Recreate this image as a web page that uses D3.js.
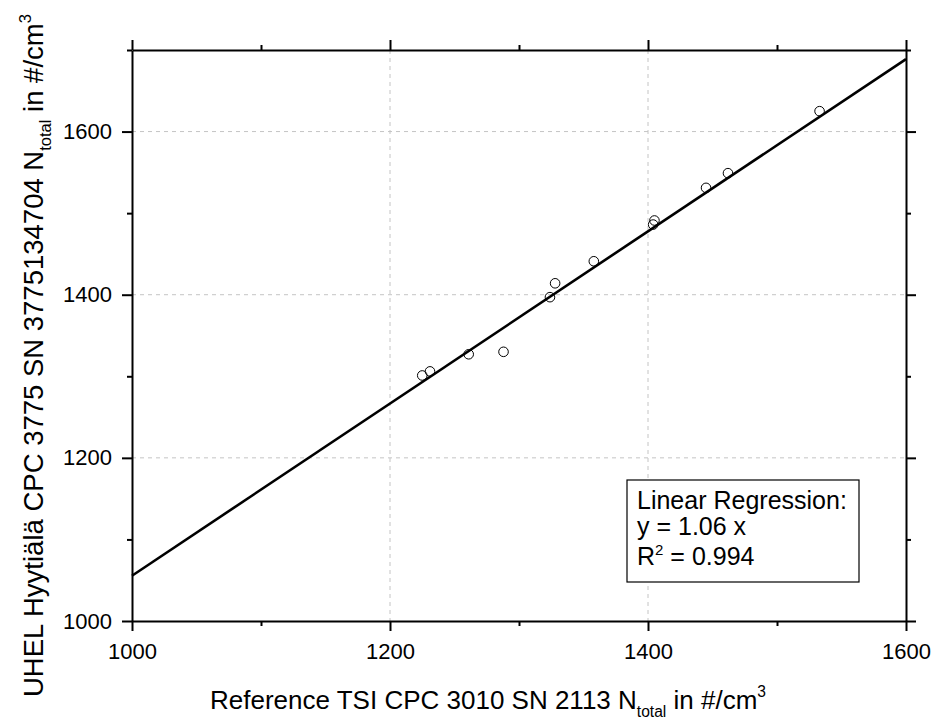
<!DOCTYPE html>
<html lang="en">
<head>
    <meta charset="UTF-8">
    <title>CPC comparison</title>
    <script src="https://d3js.org/d3.v7.min.js"></script>
    <style>
        body { margin: 0; background: #fff; }
        svg text { font-family: "Liberation Sans", Arial, sans-serif; fill: #000; }
    </style>
</head>
<body>
    <svg width="935" height="724"></svg>
    <script>
        // reference CPC (x) vs UHEL CPC (y), #/cm3
        var refValues  = [1225, 1231, 1261, 1288, 1324, 1328, 1358, 1404, 1405, 1445, 1462, 1533];
        var uhelValues = [1301, 1306, 1327, 1330, 1397, 1414, 1441, 1486, 1491, 1531, 1549, 1625];
        var fitSlope = 1.0555;
        var xTickValues = [1000, 1100, 1200, 1300, 1400, 1500, 1600];
        var yTickValues = [1000, 1100, 1200, 1300, 1400, 1500, 1600, 1700];
        var legendLines = ["Linear Regression:", "y = 1.06 x", "R2 = 0.994"];

        var svg = d3.select("svg");
        var margin = {left: 132, top: 50, right: 29, bottom: 103};
        var width = 935 - margin.left - margin.right;
        var height = 724 - margin.top - margin.bottom;

        var x = d3.scaleLinear().domain([1000, 1600]).range([0, width]);
        var y = d3.scaleLinear().domain([1000, 1700]).range([height, 0]);

        var plot = svg.append("g")
            .attr("transform", "translate(" + margin.left + "," + margin.top + ")");

        var isMajor = d => d % 200 === 0;

        // dashed grid at labelled values
        plot.selectAll(".gx")
            .data(xTickValues.filter(d => isMajor(d) && d > 1000 && d < 1600))
            .enter().append("line")
            .attr("x1", d => x(d)).attr("x2", d => x(d))
            .attr("y1", 0).attr("y2", height)
            .attr("stroke", "#c4c4c4").attr("stroke-dasharray", "4,4");
        plot.selectAll(".gy")
            .data(yTickValues.filter(d => isMajor(d) && d > 1000))
            .enter().append("line")
            .attr("x1", 0).attr("x2", width)
            .attr("y1", d => y(d)).attr("y2", d => y(d))
            .attr("stroke", "#c4c4c4").attr("stroke-dasharray", "4,4");

        function styleAxis(g, labels) {
            g.select(".domain").attr("stroke-width", 2);
            g.selectAll(".tick line").attr("stroke-width", 2);
            g.selectAll(".tick text").style("font-size", "22px");
            if (!labels) g.selectAll(".tick text").remove();
        }

        var fmt = d => isMajor(d) ? d : "";

        var axB = plot.append("g").attr("transform", "translate(0," + height + ")")
            .call(d3.axisBottom(x).tickValues(xTickValues).tickSize(10).tickSizeOuter(0).tickPadding(12).tickFormat(fmt));
        axB.selectAll(".tick line").attr("y2", d => isMajor(d) ? 10 : 5);
        styleAxis(axB, true);

        var axT = plot.append("g")
            .call(d3.axisTop(x).tickValues(xTickValues).tickSize(10).tickSizeOuter(0).tickFormat(""));
        axT.selectAll(".tick line").attr("y2", d => isMajor(d) ? -10 : -5);
        styleAxis(axT, false);

        var axL = plot.append("g")
            .call(d3.axisLeft(y).tickValues(yTickValues).tickSize(10).tickSizeOuter(0).tickPadding(10).tickFormat(fmt));
        axL.selectAll(".tick line").attr("x2", d => isMajor(d) ? -10 : -5);
        styleAxis(axL, true);

        var axR = plot.append("g").attr("transform", "translate(" + width + ",0)")
            .call(d3.axisRight(y).tickValues(yTickValues).tickSize(10).tickSizeOuter(0).tickFormat(""));
        axR.selectAll(".tick line").attr("x2", d => isMajor(d) ? 10 : 5);
        styleAxis(axR, false);

        // regression line
        plot.append("line")
            .attr("x1", x(1000)).attr("y1", y(1000 * fitSlope))
            .attr("x2", x(1600)).attr("y2", y(1600 * fitSlope))
            .attr("stroke", "#000").attr("stroke-width", 2.6);

        // measured points
        plot.selectAll("circle")
            .data(refValues.map((d, i) => [d, uhelValues[i]]))
            .enter().append("circle")
            .attr("cx", d => x(d[0]))
            .attr("cy", d => y(d[1]))
            .attr("r", 4.8)
            .attr("fill", "none")
            .attr("stroke", "#000")
            .attr("stroke-width", 1);

        // legend box
        var leg = svg.append("g").attr("transform", "translate(627,480)");
        leg.append("rect")
            .attr("width", 232).attr("height", 102)
            .attr("fill", "#fff").attr("stroke", "#000").attr("stroke-width", 1.2);
        var lineY = [29, 55, 85];
        legendLines.forEach(function (t, i) {
            var txt = leg.append("text").attr("x", 10).attr("y", lineY[i]).style("font-size", "25px");
            if (t.startsWith("R2")) {
                txt.append("tspan").text("R");
                txt.append("tspan").text("2").attr("dy", "-10").style("font-size", "15px");
                txt.append("tspan").text(" = 0.994").attr("dy", "10");
            } else {
                txt.text(t);
            }
        });

        // axis titles with sub/superscripts
        function title(sel, pre, post, sz) {
            sel.append("tspan").text(pre);
            sel.append("tspan").text("total").attr("dy", "8").style("font-size", sz * 0.6 + "px");
            sel.append("tspan").text(post).attr("dy", "-8");
            sel.append("tspan").text("3").attr("dy", "-12").style("font-size", sz * 0.6 + "px");
        }

        var xt = svg.append("text")
            .attr("x", 210).attr("y", 709)
            .style("font-size", "26px");
        title(xt, "Reference TSI CPC 3010 SN 2113 N", " in #/cm", 26);

        var yt = svg.append("text")
            .attr("transform", "translate(43,697) rotate(-90)")
            .style("font-size", "27.5px");
        title(yt, "UHEL Hyytiälä CPC 3775 SN 3775134704 N", " in #/cm", 27.5);
    </script>
</body>
</html>
